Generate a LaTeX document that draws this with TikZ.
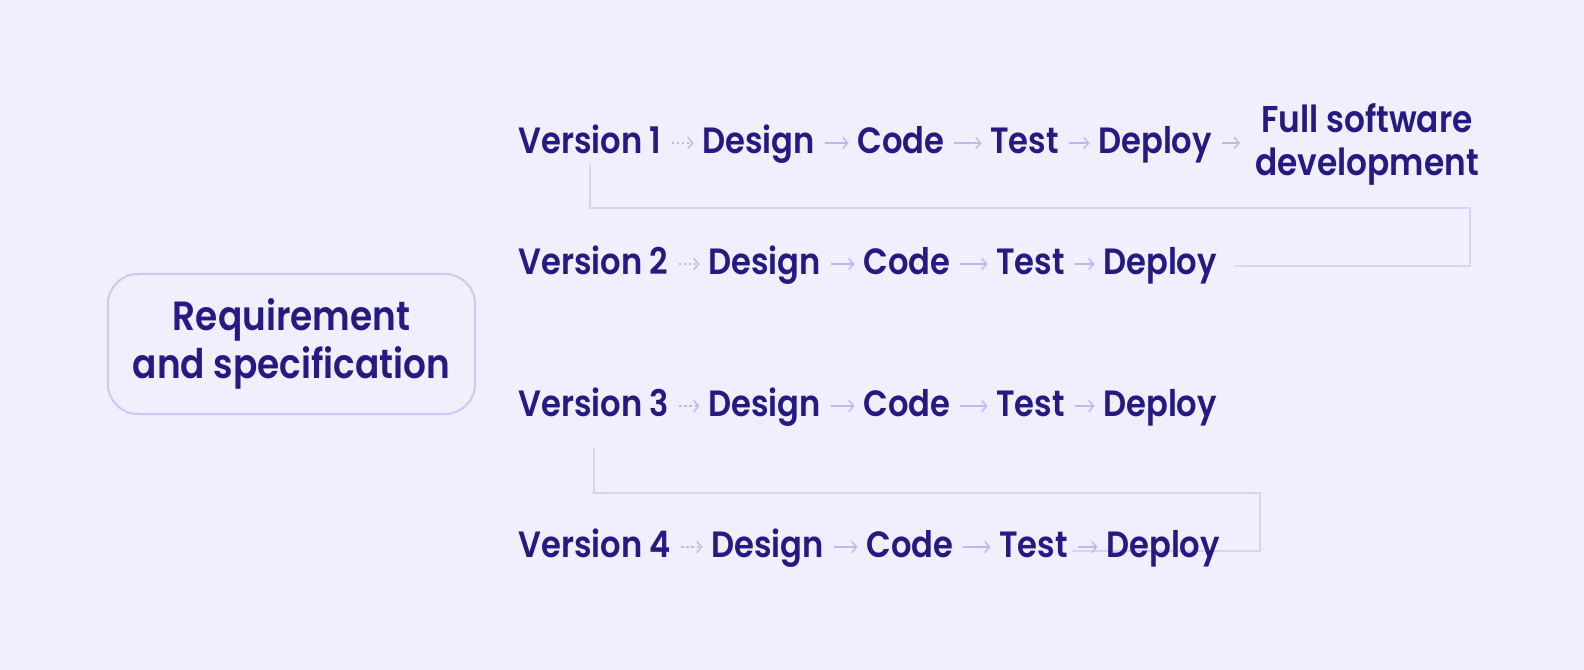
\documentclass[tikz,border=0pt]{standalone}
\usepackage{fontspec}
\IfFontExistsTF{Poppins SemiBold}{\setmainfont{Poppins SemiBold}[FakeStretch=0.88]}{%
  \setmainfont{Poppins}[FakeStretch=0.9, FakeBold=2.2]}
\usetikzlibrary{arrows.meta,calc,backgrounds}

\definecolor{paper}{HTML}{F1EEFD}
\definecolor{ink}{HTML}{241A82}
\definecolor{tip}{HTML}{BFB7EE}
\definecolor{wire}{HTML}{D8D2F8}
\definecolor{frame}{HTML}{CFC7F5}

\tikzset{
  word/.style={inner sep=0pt, anchor=base west, text=ink, text height=14.2pt, text depth=0pt,
    font=\fontsize{26}{30}\selectfont},
  flow/.style={draw=tip, line width=1pt, -{Straight Barb[length=3.5pt,width=8pt]},
    shorten <=7pt, shorten >=6pt},
  dotflow/.style={flow, dash pattern=on 1.8pt off 1.8pt},
  link/.style={draw=wire, line width=1.1pt},
}

\begin{document}
\begin{tikzpicture}[x=0.025cm, y=-0.025cm]
    \node[draw=frame, line width=1.4pt, rounded corners=0.75cm, minimum width=9.175cm,
      minimum height=3.5cm, align=center, inner sep=0pt, text=ink,
      font=\fontsize{29}{34}\selectfont] (req) at (291.5,344) {Requirement\\and specification};

    % version 1
    \node[word] (v1) at (518,153) {Version 1};
    \node[word] (d1) at (702,153) {Design};
    \node[word] (c1) at (857,153) {Code};
    \node[word] (t1) at (990,153) {Test};
    \node[word] (p1) at (1098,153) {Deploy};
    \node[align=center, inner sep=0pt, text=ink, font=\fontsize{26.5}{30.5}\selectfont]
      (full) at (1367,144.5) {Full software\\development};
    % version 2
    \node[word] (v2) at (518,274) {Version 2};
    \node[word] (d2) at (708,274) {Design};
    \node[word] (c2) at (863,274) {Code};
    \node[word] (t2) at (996,274) {Test};
    \node[word] (p2) at (1103,274) {Deploy};
    % version 3
    \node[word] (v3) at (518,416) {Version 3};
    \node[word] (d3) at (708,416) {Design};
    \node[word] (c3) at (863,416) {Code};
    \node[word] (t3) at (996,416) {Test};
    \node[word] (p3) at (1103,416) {Deploy};
    % version 4
    \node[word] (v4) at (518,557) {Version 4};
    \node[word] (d4) at (711,557) {Design};
    \node[word] (c4) at (866,557) {Code};
    \node[word] (t4) at (999,557) {Test};
    \node[word] (p4) at (1106,557) {Deploy};

    \draw[dotflow] (v1) -- (d1);
    \draw[flow] (d1) -- (c1);
    \draw[flow] (c1) -- (t1);
    \draw[flow] (t1) -- (p1);
    \draw[flow, shorten >=10.6pt] (p1) -- (p1 -| full.west);
    \draw[dotflow] (v2) -- (d2);
    \draw[flow] (d2) -- (c2);
    \draw[flow] (c2) -- (t2);
    \draw[flow] (t2) -- (p2);
    \draw[dotflow] (v3) -- (d3);
    \draw[flow] (d3) -- (c3);
    \draw[flow] (c3) -- (t3);
    \draw[flow] (t3) -- (p3);
    \draw[dotflow] (v4) -- (d4);
    \draw[flow] (d4) -- (c4);
    \draw[flow] (c4) -- (t4);
    \draw[flow] (t4) -- (p4);

    \coordinate (bend1) at (1470,208);
    \coordinate (end1) at (1235,266);
    \coordinate (bend3) at (1260,493);
    \coordinate (end3) at (1072,551);
    \begin{scope}[on background layer]
      \fill[paper] (0,0) rectangle (1584,670);
      \draw[link] ($(v1.base)+(0,12)$) |- (bend1) |- (end1);
      \draw[link] ($(v3.base)+(0,32)$) |- (bend3) |- (end3);
    \end{scope}
\end{tikzpicture}
\end{document}
